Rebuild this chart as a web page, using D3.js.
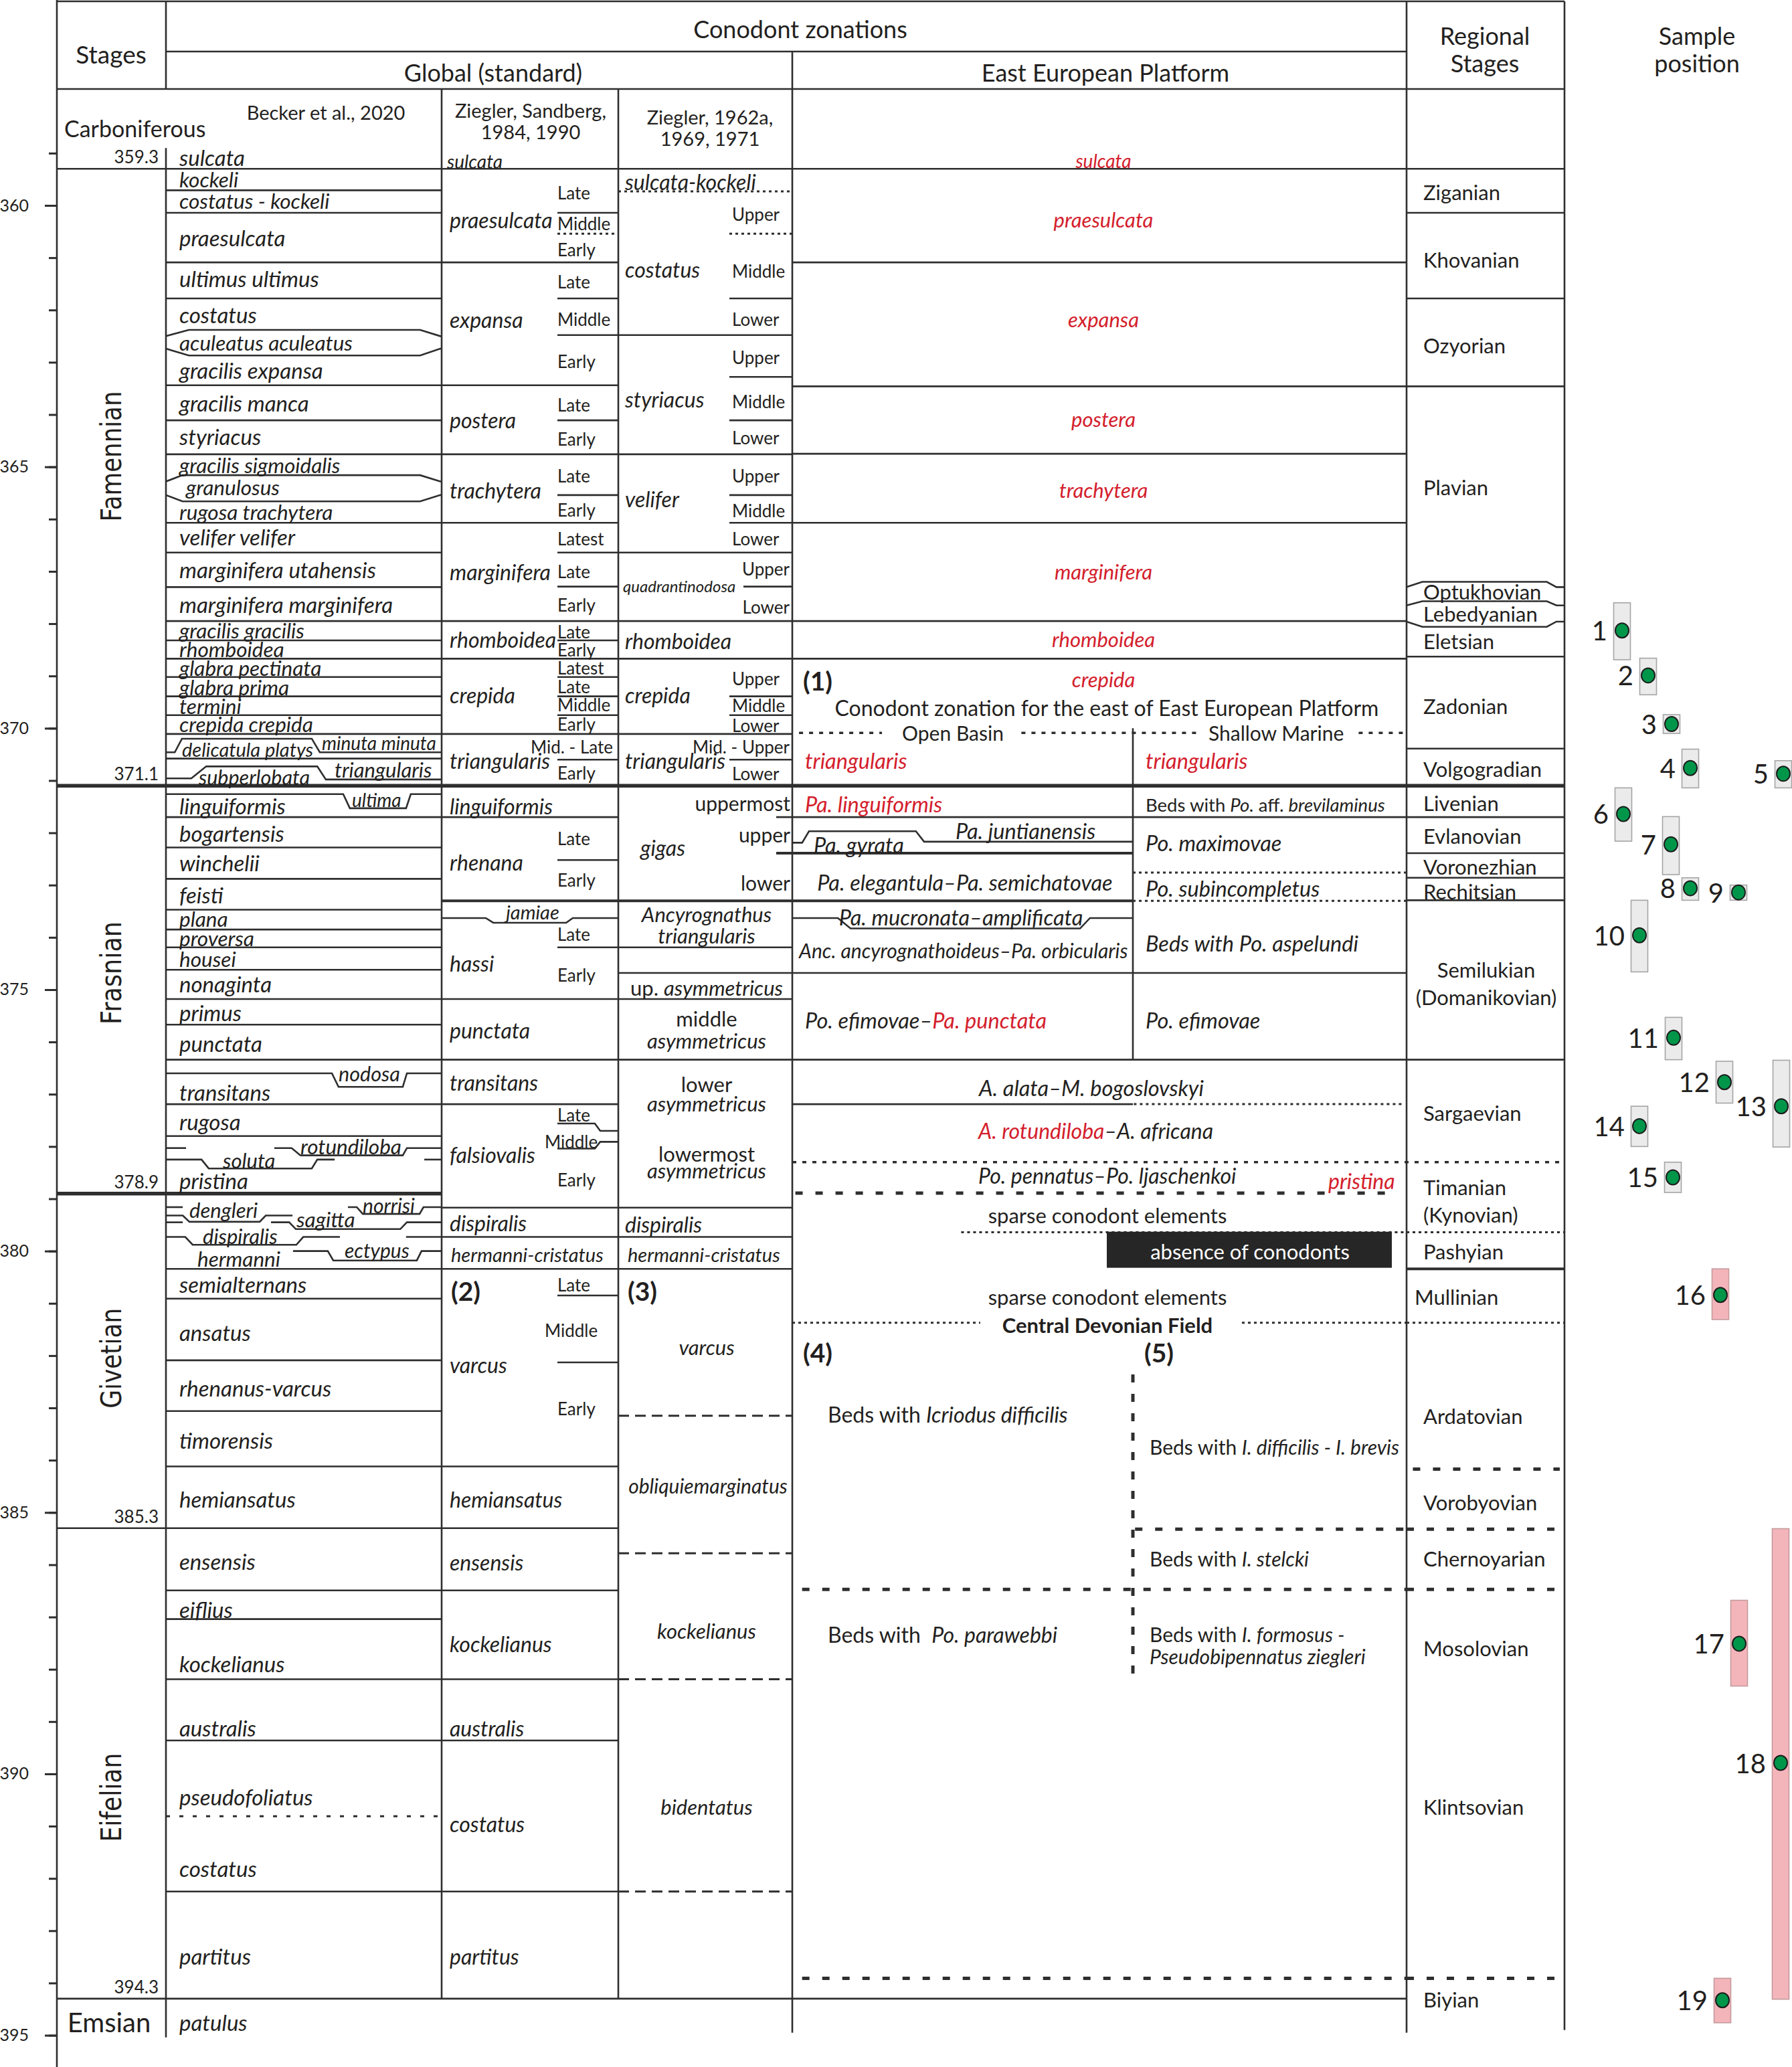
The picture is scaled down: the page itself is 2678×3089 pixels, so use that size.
<!DOCTYPE html>
<html>
<head>
<meta charset="utf-8">
<title>Devonian conodont zonations</title>
<script src="https://cdn.jsdelivr.net/npm/d3@7/dist/d3.min.js"></script>
<style>
  body { margin: 0; background: #fff; }
  text { font-family: Lato, "Open Sans", sans-serif; fill: #231f20; white-space: pre; }
</style>
</head>
<body>
<svg id="chart" width="2678" height="3089"></svg>
<script>
// ---------- data: every age in Ma ----------
var axisTicks = [359, 360, 361, 362, 363, 364, 365, 366, 367, 368, 369, 370, 371, 372, 373, 374, 375, 376, 377,
                 378, 379, 380, 381, 382, 383, 384, 385, 386, 387, 388, 389, 390, 391, 392, 393, 394, 395];
var axisLabels = [360, 365, 370, 375, 380, 385, 390, 395];

var stageBounds = [359.3, 371.1, 378.9, 385.3, 394.3];
var stageNames = [['Famennian', 364.8], ['Frasnian', 374.68], ['Givetian', 382.05], ['Eifelian', 390.45]];
var emsian = ['Emsian', 394.75];
var carboniferous = ['Carboniferous', 358.52];

// horizontal boundaries [age, columns, style]
var stageLines = [[359.3, 'stage:reg'], [371.1, 'stage:reg', 'thick'], [378.9, 'stage:becker', 'thick'],
                  [385.3, 'stage:zs'], [394.3, 'stage:eep']];
var beckerLines = [359.71, 360.14, 361.09, 361.78, 363.44, 364.11, 364.76, 366.07, 366.64, 367.30, 367.95, 368.32,
                   368.67, 369.02, 369.39, 369.75, 370.11, 370.58, 371.70, 372.28, 372.88, 373.47, 373.85, 374.19,
                   374.62, 375.18, 375.67, 376.34, 377.19, 377.80, 380.34, 380.91, 382.09, 383.06, 384.12, 386.49,
                   387.04, 388.19, 389.36, 392.25];
var beckerDotted = [390.81];
var zsLines = [361.09, 363.44, 364.76, 366.07, 367.95, 368.67, 370.11, 371.70, 375.18, 376.34, 377.19, 379.17,
               379.73, 380.34, 384.12, 386.49, 388.19, 389.36, 392.25];
var zsSubLines = [360.14, 361.78, 364.11, 365.54, 367.29, 368.32, 369.02, 369.39, 369.75, 370.60, 372.52, 380.85, 382.13];
var zsSubDotted = [360.54];
var z62Lines = [364.76, 367.95, 368.67, 370.11, 375.18, 376.34, 379.17, 379.73, 380.34];
var z62Dotted = [359.73];
var z62Dashed = [383.15, 385.78, 388.19, 392.25];
var z62SubLines = [361.78, 363.28, 364.11, 365.54, 366.07, 369.39, 369.75, 370.60];
var z62SubDotted = [360.54];
var eepLines = [361.09, 363.46, 364.75, 366.07, 367.95, 368.67];
var eepRDotted = [372.76, 373.30];
var regLines = [360.14, 361.78, 363.46, 368.63, 370.39, 372.39, 372.86, 373.29];
var crossLines = [[362.48, 'zsSub:z62'], [366.64, 'zsSub:z62'], [373.30, 'zs:eepL', 'med'], [374.19, 'zsSub:z62'],
                  [374.68, 'z62:eep'], [371.70, 'z62Tail:reg'], [372.39, 'z62Tail:eepL', 'med'], [376.34, 'eep:reg'],
                  [367.29, 'z62Q'], [378.30, 'eep:reg', 'dot2'], [377.19, 'eepL'], [380.34, 'reg', 'med']];
// partial lines [column, age, from, to, style]
var partLines = [
  ['eep', 370.09, 0.011, 0.146, 'dot2'], ['eep', 370.09, 0.373, 0.661, 'dot2'], ['eep', 370.09, 0.922, 1, 'dot2'],
  ['eep', 377.19, 0.556, 0.996, 'dot'], ['eep', 378.89, 0.005, 0.985, 'heavy'],
  ['eep', 379.64, 0.275, 1, 'dot'], ['reg', 379.64, 0, 1, 'dot'],
  ['eep', 381.37, 0, 0.306, 'dot'], ['eep', 381.37, 0.732, 1, 'dot'], ['reg', 381.37, 0, 1, 'dot'],
  ['reg', 384.17, 0.04, 0.97, 'heavy'],
  ['eep', 385.32, 0.558, 1, 'heavy'], ['reg', 385.32, 0, 0.97, 'heavy'],
  ['eep', 386.47, 0.016, 1, 'heavy'], ['reg', 386.47, 0, 0.97, 'heavy'],
  ['eep', 393.91, 0.016, 1, 'heavy'], ['reg', 393.91, 0, 0.985, 'heavy']
];
// offset zone boundaries [[fraction of column, age], ...]
var beckerShapes = [
  [[0, 362.50], [0.083, 362.38], [0.922, 362.38], [0.995, 362.50], [1, 362.50]],
  [[0, 362.74], [0.083, 362.87], [0.922, 362.87], [0.995, 362.74], [1, 362.74]],
  [[0, 365.28], [0.06, 365.16], [0.922, 365.16], [0.995, 365.28], [1, 365.28]],
  [[0, 365.54], [0.06, 365.66], [0.922, 365.66], [0.995, 365.54], [1, 365.54]],
  [[0, 370.46], [0.032, 370.46], [0.058, 370.20], [0.529, 370.20], [0.558, 370.46], [1, 370.46]],
  [[0, 370.96], [0.092, 370.96], [0.146, 370.73], [0.549, 370.73], [0.58, 370.98], [1, 370.98]],
  [[0, 371.26], [0.643, 371.26], [0.667, 371.53], [0.871, 371.53], [0.888, 371.26], [1, 371.26]],
  [[0, 376.60], [0.602, 376.60], [0.626, 376.86], [0.859, 376.86], [0.874, 376.60], [1, 376.60]],
  [[0, 378.03], [0.073, 378.03]],
  [[0.393, 378.03], [0.456, 378.03], [0.488, 378.17], [0.859, 378.17], [0.874, 378.03], [1, 378.03]],
  [[0, 378.25], [0.129, 378.25], [0.155, 378.42], [0.529, 378.42], [0.549, 378.25], [0.612, 378.25]],
  [[0.937, 378.25], [1, 378.25]],
  [[0, 379.16], [0.061, 379.16]],
  [[0.66, 379.16], [0.692, 379.16], [0.714, 379.29], [0.92, 379.29], [0.934, 379.16], [1, 379.16]],
  [[0, 379.32], [0.061, 379.32], [0.085, 379.44], [0.34, 379.44], [0.362, 379.32], [0.459, 379.32]],
  [[0, 379.45], [0.061, 379.45]],
  [[0.381, 379.45], [0.447, 379.45], [0.471, 379.58], [0.85, 379.58], [0.874, 379.45], [1, 379.45]],
  [[0, 379.73], [0.07, 379.73], [0.097, 379.88], [0.473, 379.88], [0.498, 379.73], [0.631, 379.73]],
  [[0.871, 379.73], [1, 379.73]],
  [[0.461, 380.00], [0.587, 380.00], [0.607, 380.18], [0.91, 380.18], [0.927, 380.00], [1, 380.00]]
];
var zsShapes = [[[0, 373.63], [0.25, 373.63], [0.292, 373.72], [0.705, 373.72], [0.742, 373.63], [1, 373.63]]];
var zsSubShapes = [
  [[0, 377.56], [0.615, 377.56], [0.703, 377.70], [1, 377.70]],
  [[0, 378.04], [0.615, 378.04], [0.703, 377.91], [1, 377.91]]
];
var eepShapes = [
  [[0, 372.19], [0.029, 372.19], [0.049, 371.97], [0.363, 371.97], [0.387, 372.17], [1, 372.17]],
  [[0, 373.63], [0.134, 373.63], [0.171, 373.83], [0.845, 373.83], [0.874, 373.63], [1, 373.63]]
];
var regShapes = [
  [[0, 367.30], [0.1, 367.20], [0.888, 367.20], [0.949, 367.30], [1, 367.30]],
  [[0, 367.65], [0.1, 367.57], [0.888, 367.57], [0.949, 367.65], [1, 367.65]],
  [[0, 367.96], [0.1, 368.06], [0.888, 368.06], [0.949, 367.96], [1, 367.96]]
];
var eepDivider = [[370.0, 376.34, 'solid'], [382.36, 388.12, 'vdash']];
var absenceBox = [379.63, 380.32];

// zone labels [markup, age, lane]  (*italic*  {red italic}  [bold])
var beckerNames = [
  ['*sulcata*', 359.08], ['*kockeli*', 359.50, 'beckerT'], ['*costatus - kockeli*', 359.91, 'beckerT'],
  ['*praesulcata*', 360.61], ['*ultimus ultimus*', 361.40], ['*costatus*', 362.08],
  ['*aculeatus aculeatus*', 362.63, 'beckerT'], ['*gracilis expansa*', 363.15], ['*gracilis manca*', 363.77],
  ['*styriacus*', 364.41], ['*gracilis sigmoidalis*', 364.96, 'beckerT'], ['*granulosus*', 365.39, 'bGran'],
  ['*rugosa trachytera*', 365.86, 'beckerT'], ['*velifer velifer*', 366.34], ['*marginifera utahensis*', 366.96],
  ['*marginifera marginifera*', 367.63], ['*gracilis gracilis*', 368.13, 'beckerT'], ['*rhomboidea*', 368.49, 'beckerT'],
  ['*glabra pectinata*', 368.84, 'beckerT'], ['*glabra prima*', 369.21, 'beckerT'], ['*termini*', 369.57, 'beckerT'],
  ['*crepida crepida*', 369.92, 'beckerT'],
  ['*delicatula platys*', 370.39, 'bDeli'], ['*minuta minuta*', 370.28, 'bMinuta'],
  ['*triangularis*', 370.79, 'bTriang'], ['*subperlobata*', 370.93, 'bSubp'],
  ['*linguiformis*', 371.48], ['*ultima*', 371.37, 'bUltima'], ['*bogartensis*', 372.00], ['*winchelii*', 372.57],
  ['*feisti*', 373.18], ['*plana*', 373.65, 'beckerT'], ['*proversa*', 374.02, 'beckerT'], ['*housei*', 374.41, 'beckerT'],
  ['*nonaginta*', 374.89], ['*primus*', 375.43], ['*punctata*', 376.03], ['*nodosa*', 376.60, 'bNodosa'],
  ['*transitans*', 376.96], ['*rugosa*', 377.52], ['*rotundiloba*', 377.99, 'bRotund'], ['*soluta*', 378.26, 'bSoluta'],
  ['*pristina*', 378.65],
  ['*dengleri*', 379.21, 'bDeng'], ['*sagitta*', 379.39, 'bSag'], ['*norrisi*', 379.12, 'bNorr'],
  ['*dispiralis*', 379.71, 'bDisp'], ['*hermanni*', 380.14, 'bHerm'], ['*ectypus*', 379.98, 'bEct'],
  ['*semialternans*', 380.63], ['*ansatus*', 381.55], ['*rhenanus-varcus*', 382.61], ['*timorensis*', 383.61],
  ['*hemiansatus*', 384.74], ['*ensensis*', 385.93], ['*eiflius*', 386.85], ['*kockelianus*', 387.89],
  ['*australis*', 389.12], ['*pseudofoliatus*', 390.43], ['*costatus*', 391.81], ['*partitus*', 393.48],
  ['*patulus*', 394.75]
];
var zsNames = [
  ['*sulcata*', 359.16, 'zsS'], ['*praesulcata*', 360.27], ['*expansa*', 362.18], ['*postera*', 364.09],
  ['*trachytera*', 365.44], ['*marginifera*', 367.00], ['*rhomboidea*', 368.30], ['*crepida*', 369.36],
  ['*triangularis*', 370.61], ['*linguiformis*', 371.48], ['*rhenana*', 372.56], ['*jamiae*', 373.50, 'zsJam'],
  ['*hassi*', 374.49], ['*punctata*', 375.77], ['*transitans*', 376.77], ['*falsiovalis*', 378.15],
  ['*dispiralis*', 379.45], ['*hermanni-cristatus*', 380.06, 'zs27'], ['[(2)]', 380.76, 'zsBold'],
  ['*varcus*', 382.17], ['*hemiansatus*', 384.74], ['*ensensis*', 385.94], ['*kockelianus*', 387.51],
  ['*australis*', 389.12], ['*costatus*', 390.95], ['*partitus*', 393.48]
];
var zsSubNames = [
  ['Late', 359.76], ['Middle', 360.35], ['Early', 360.84], ['Late', 361.46], ['Middle', 362.18], ['Early', 362.98],
  ['Late', 363.81], ['Early', 364.47], ['Late', 365.17], ['Early', 365.82],
  ['Latest', 366.37], ['Late', 367.00], ['Early', 367.64], ['Late', 368.15], ['Early', 368.50],
  ['Latest', 368.84], ['Late', 369.20], ['Middle', 369.55], ['Early', 369.92],
  ['Mid. - Late', 370.35, 'zsSubR'], ['Early', 370.85], ['Late', 372.11], ['Early', 372.90],
  ['Late', 373.94], ['Early', 374.72], ['Late', 377.40], ['Middle', 377.91, 'zsSubM'], ['Early', 378.64],
  ['Late', 380.65], ['Middle', 381.52, 'zsSubM'], ['Early', 383.01]
];
var z62Names = [
  ['*sulcata-kockeli*', 359.54], ['*costatus*', 361.21], ['*styriacus*', 363.70], ['*velifer*', 365.61],
  ['*quadrantinodosa*', 367.27, 'z62Q'], ['*rhomboidea*', 368.32], ['*crepida*', 369.36], ['*triangularis*', 370.61],
  ['*gigas*', 372.28, 'z62Gigas'], ['*Ancyrognathus*', 373.55, 'z62C'], ['*triangularis*', 373.97, 'z62C'],
  ['up. *asymmetricus*', 374.96, 'z62C'], ['middle', 375.55, 'z62C'], ['*asymmetricus*', 375.97, 'z62C'],
  ['lower', 376.81, 'z62C'], ['*asymmetricus*', 377.17, 'z62C'], ['lowermost', 378.13, 'z62C'],
  ['*asymmetricus*', 378.46, 'z62C'], ['*dispiralis*', 379.48], ['*hermanni-cristatus*', 380.06, 'z6227'],
  ['[(3)]', 380.76, 'z62Bold'], ['*varcus*', 381.83, 'z62C'], ['*obliquiemarginatus*', 384.48, 'z62C27'],
  ['*kockelianus*', 387.26, 'z62C'], ['*bidentatus*', 390.63, 'z62C']
];
var z62SubNames = [
  ['Upper', 360.17], ['Middle', 361.25], ['Lower', 362.18], ['Upper', 362.90], ['Middle', 363.75], ['Lower', 364.44],
  ['Upper', 365.17], ['Middle', 365.83], ['Lower', 366.37], ['Upper', 366.95, 'z62SubR'], ['Lower', 367.68, 'z62SubR'],
  ['Upper', 369.05], ['Middle', 369.56], ['Lower', 369.94], ['Mid. - Upper', 370.35, 'z62SubR'], ['Lower', 370.86],
  ['uppermost', 371.43, 'z62SubR30'], ['upper', 372.03, 'z62SubR30'], ['lower', 372.95, 'z62SubR30']
];
var eepNames = [
  ['{sulcata}', 359.14, 'eepCs'], ['{praesulcata}', 360.27], ['{expansa}', 362.18], ['{postera}', 364.08],
  ['{trachytera}', 365.44], ['{marginifera}', 367.00], ['{rhomboidea}', 368.30], ['{crepida}', 369.06],
  ['[(1)]', 369.09, 'eepBold'], ['Conodont zonation for the east of East European Platform', 369.60, 'eepTitle'],
  ['Open Basin', 370.09, 'eepOpen'], ['Shallow Marine', 370.09, 'eepShallow'],
  ['{triangularis}', 370.61, 'eepL'], ['{triangularis}', 370.61, 'eepR'],
  ['{Pa. linguiformis}', 371.44, 'eepL'], ['Beds with *Po.* aff. *brevilaminus*', 371.46, 'eepRs'],
  ['*Pa. juntianensis*', 371.95, 'eepJunt'], ['*Pa. gyrata*', 372.22, 'eepGyr'], ['*Po. maximovae*', 372.19, 'eepR'],
  ['*Pa. elegantula–Pa. semichatovae*', 372.94, 'eepLC'], ['*Po. subincompletus*', 373.06, 'eepR'],
  ['*Pa. mucronata–amplificata*', 373.60, 'eepLC2'], ['*Anc. ancyrognathoideus–Pa. orbicularis*', 374.25, 'eepL0'],
  ['*Beds with Po. aspelundi*', 374.10, 'eepR'], ['*Po. efimovae–*{Pa. punctata}', 375.58, 'eepL'],
  ['*Po. efimovae*', 375.58, 'eepR'], ['*A. alata–M. bogoslovskyi*', 376.87, 'eepC2'],
  ['{A. rotundiloba}*–A. africana*', 377.69, 'eepMid'], ['*Po. pennatus–Po. ljaschenkoi*', 378.54, 'eepMid'],
  ['{pristina}', 378.65, 'eepPristina'], ['sparse conodont elements', 379.32, 'eepSparse'],
  ['absence of conodonts', 380.01, 'eepAbs'], ['sparse conodont elements', 380.88, 'eepSparse'],
  ['[Central Devonian Field]', 381.41, 'eepSparse'], ['[(4)]', 381.94, 'eepBold'], ['[(5)]', 381.94, 'eepBoldR'],
  ['Beds with *Icriodus difficilis*', 383.11, 'eep4'], ['Beds with *I. difficilis - I. brevis*', 383.74, 'eep5'],
  ['Beds with *I. stelcki*', 385.88, 'eep5'], ['Beds with  *Po. parawebbi*', 387.33, 'eep4'],
  ['Beds with *I. formosus -*', 387.33, 'eep5'], ['*Pseudobipennatus ziegleri*', 387.75, 'eep5']
];
var regNames = [
  ['Ziganian', 359.74], ['Khovanian', 361.04], ['Ozyorian', 362.67], ['Plavian', 365.39], ['Optukhovian', 367.39],
  ['Lebedyanian', 367.81], ['Eletsian', 368.33], ['Zadonian', 369.57], ['Volgogradian', 370.78], ['Livenian', 371.43],
  ['Evlanovian', 372.06], ['Voronezhian', 372.65], ['Rechitsian', 373.12], ['Semilukian', 374.62, 'regC'],
  ['(Domanikovian)', 375.14, 'regC'], ['Sargaevian', 377.36], ['Timanian', 378.77], ['(Kynovian)', 379.30],
  ['Pashyian', 380.00], ['Mullinian', 380.88, 'regL2'], ['Ardatovian', 383.15], ['Vorobyovian', 384.80],
  ['Chernoyarian', 385.88], ['Mosolovian', 387.60], ['Klintsovian', 390.63], ['Biyian', 394.32]
];
// samples [number, top, base, position, kind]
var samples = [
  [1, 367.60, 368.69, 368.13, 'grey'], [2, 368.66, 369.36, 368.99, 'grey'], [3, 369.74, 370.10, 369.92, 'grey'],
  [4, 370.40, 371.14, 370.76, 'grey'], [5, 370.62, 371.14, 370.87, 'grey'], [6, 371.14, 372.16, 371.64, 'grey'],
  [7, 371.69, 372.80, 372.22, 'grey'], [8, 372.86, 373.29, 373.06, 'grey'], [9, 373.00, 373.29, 373.14, 'grey'],
  [10, 373.29, 374.66, 373.96, 'grey'], [11, 375.53, 376.34, 375.92, 'grey'], [12, 376.37, 377.17, 376.77, 'grey'],
  [13, 376.35, 378.01, 377.23, 'grey'], [14, 377.23, 378.00, 377.61, 'grey'], [15, 378.30, 378.88, 378.59, 'grey'],
  [16, 380.34, 381.31, 380.84, 'pink'], [17, 386.68, 388.32, 387.51, 'pink'], [18, 385.31, 394.31, 389.79, 'pink'],
  [19, 393.91, 394.76, 394.33, 'pink']
];

// ---------- layout ----------
var RED = '#d4202c', INK = '#2e2e2e';
var svg = d3.select('#chart');
var y = d3.scaleLinear().domain([360, 395]).range([307, 3041.6]);

var cols = {
  stage: [85, 248], becker: [248, 660], zs: [660, 924], zsSub: [833, 924],
  z62: [924, 1184], z62Sub: [1090, 1184], z62Q: [1111, 1184], z62Tail: [1160, 1184],
  eep: [1184, 2102], eepL: [1184, 1693], eepR: [1693, 2102], reg: [2102, 2338]
};
var xs = {};
Object.keys(cols).forEach(function (k) { xs[k] = d3.scaleLinear().domain([0, 1]).range(cols[k]); });
function spanOf(key) { var p = key.split(':'); return [cols[p[0]][0], cols[p[p.length - 1]][1]]; }

var strokes = {
  solid: [2.6, null], med: [4, null], thick: [5.5, null], dot: [3, '4,5'], dot2: [3.5, '6,9'],
  sparse: [3, '6,14'], dash: [3, '16,9'], heavy: [5, '11,19'], vdash: [5, '12,17']
};
// lanes: x, anchor, font size, colour
var lanes = {
  beckerL: [268, 'start', 33], beckerT: [268, 'start', 31.5], bGran: [278, 'start', 31.5], bDeli: [272, 'start', 29],
  bMinuta: [481, 'start', 28], bTriang: [500, 'start', 31], bSubp: [297, 'start', 30.5], bUltima: [526, 'start', 28],
  bNodosa: [506, 'start', 30.5], bRotund: [449, 'start', 31.5], bSoluta: [333, 'start', 31], bDeng: [283, 'start', 31],
  bSag: [443, 'start', 31.5], bNorr: [542, 'start', 30], bDisp: [303, 'start', 31], bHerm: [295, 'start', 31.5],
  bEct: [515, 'start', 30],
  zsL: [672, 'start', 32], zsS: [668, 'start', 28], zs27: [674, 'start', 29], zsBold: [674, 'start', 39],
  zsJam: [796, 'middle', 29], zsSubL: [833, 'start', 26], zsSubR: [916, 'end', 26], zsSubM: [814, 'start', 26],
  z62L: [934, 'start', 32], z62Q: [931, 'start', 24], z6227: [938, 'start', 29], z62Bold: [938, 'start', 39],
  z62C: [1056, 'middle', 31], z62C27: [1058, 'middle', 30], z62Gigas: [957, 'start', 32],
  z62SubL: [1094, 'start', 26], z62SubR: [1180, 'end', 26], z62SubR30: [1181, 'end', 30],
  eepC: [1649, 'middle', 31, RED], eepCs: [1649, 'middle', 28, RED], eepTitle: [1654, 'middle', 32],
  eepOpen: [1424, 'middle', 30], eepShallow: [1806, 'start', 30], eepL: [1203, 'start', 32.5],
  eepR: [1712, 'start', 32.5], eepRs: [1712, 'start', 27.5], eepBold: [1200, 'start', 39], eepBoldR: [1710, 'start', 39],
  eepJunt: [1428, 'start', 32.5], eepGyr: [1216, 'start', 32.5], eepLC: [1442, 'middle', 32.5],
  eepLC2: [1436, 'middle', 32.5], eepL0: [1194, 'start', 30],
  eepC2: [1631, 'middle', 32.5], eepMid: [1462, 'start', 32], eepPristina: [1985, 'start', 32],
  eepSparse: [1655, 'middle', 31], eepAbs: [1868, 'middle', 31, '#ffffff'], eep4: [1237, 'start', 32],
  eep5: [1718, 'start', 30], regL: [2127, 'start', 31], regC: [2221, 'middle', 31], regL2: [2114, 'start', 31]
};
var stageLen = [195, 154, 150, 133];
var sampleLane = {1: 2424, 2: 2463, 3: 2498, 4: 2526, 5: 2665, 6: 2426, 7: 2497, 8: 2526, 9: 2598, 10: 2450,
                  11: 2501, 12: 2577, 13: 2662, 14: 2450, 15: 2500, 16: 2571, 17: 2599, 18: 2661, 19: 2574};
var headTop = 2, headMid = 77, headBot = 133;

// ---------- frame ----------
var gGrid = svg.append('g').attr('fill', 'none').attr('stroke', INK).attr('stroke-linecap', 'butt');

var heads = [[headTop, 85, 2338], [headMid, 248, 2102], [headBot, 85, 2338]];
gGrid.selectAll('line.head').data(heads).join('line').attr('class', 'head')
  .attr('x1', function (d) { return d[1]; }).attr('x2', function (d) { return d[2]; })
  .attr('y1', function (d) { return d[0]; }).attr('y2', function (d) { return d[0]; })
  .attr('stroke-width', 2.6);

var verticals = [
  [85, 0, 3089], [cols.stage[1], headTop, headBot], [cols.stage[1], y(359.3) - 31, y(395.04)],
  [cols.zs[0], headBot, y(394.3)], [cols.z62[0], headBot, y(394.3)], [cols.eep[0], headMid, y(394.95)],
  [cols.reg[0], headTop, y(394.95)], [cols.reg[1], headTop, y(394.9)]
];
gGrid.selectAll('line.v').data(verticals).join('line').attr('class', 'v')
  .attr('x1', function (d) { return d[0]; }).attr('x2', function (d) { return d[0]; })
  .attr('y1', function (d) { return d[1]; }).attr('y2', function (d) { return d[2]; })
  .attr('stroke-width', 2.6);

gGrid.selectAll('line.div').data(eepDivider).join('line').attr('class', 'div')
  .attr('x1', cols.eepL[1]).attr('x2', cols.eepL[1])
  .attr('y1', function (d) { return y(d[0]); }).attr('y2', function (d) { return y(d[1]); })
  .attr('stroke-width', function (d) { return d[2] === 'vdash' ? strokes.vdash[0] : 2.6; })
  .attr('stroke-dasharray', function (d) { return strokes[d[2]][1]; });

// ---------- zone boundaries ----------
function tag(list, span, style) { return list.map(function (a) { return [a, span, style || 'solid']; }); }
var hLines = [].concat(
  stageLines.map(function (d) { return [d[0], d[1], d[2] || 'solid']; }),
  tag(beckerLines, 'becker'), tag(beckerDotted, 'becker', 'sparse'),
  tag(zsLines, 'zs'), tag(zsSubLines, 'zsSub'), tag(zsSubDotted, 'zsSub', 'dot'),
  tag(z62Lines, 'z62'), tag(z62Dotted, 'z62', 'dot'), tag(z62Dashed, 'z62', 'dash'),
  tag(z62SubLines, 'z62Sub'), tag(z62SubDotted, 'z62Sub', 'dot'),
  tag(eepLines, 'eep'), tag(eepRDotted, 'eepR', 'dot'), tag(regLines, 'reg'),
  crossLines.map(function (d) { return [d[0], d[1], d[2] || 'solid']; })
);
gGrid.selectAll('line.h').data(hLines).join('line').attr('class', 'h')
  .attr('x1', function (d) { return spanOf(d[1])[0]; }).attr('x2', function (d) { return spanOf(d[1])[1]; })
  .attr('y1', function (d) { return y(d[0]); }).attr('y2', function (d) { return y(d[0]); })
  .attr('stroke-width', function (d) { return strokes[d[2]][0]; })
  .attr('stroke-dasharray', function (d) { return strokes[d[2]][1]; });

gGrid.selectAll('line.p').data(partLines).join('line').attr('class', 'p')
  .attr('x1', function (d) { return xs[d[0]](d[2]); }).attr('x2', function (d) { return xs[d[0]](d[3]); })
  .attr('y1', function (d) { return y(d[1]); }).attr('y2', function (d) { return y(d[1]); })
  .attr('stroke-width', function (d) { return strokes[d[4]][0]; })
  .attr('stroke-dasharray', function (d) { return strokes[d[4]][1]; });

var shapes = [].concat(
  beckerShapes.map(function (p) { return {col: 'becker', pts: p}; }),
  zsShapes.map(function (p) { return {col: 'zs', pts: p}; }),
  zsSubShapes.map(function (p) { return {col: 'zsSub', pts: p}; }),
  eepShapes.map(function (p) { return {col: 'eepL', pts: p}; }),
  regShapes.map(function (p) { return {col: 'reg', pts: p}; })
);
var path = d3.line();
gGrid.selectAll('path.s').data(shapes).join('path').attr('class', 's')
  .attr('d', function (d) { return path(d.pts.map(function (p) { return [xs[d.col](p[0]), y(p[1])]; })); })
  .attr('stroke-width', 2.6);

svg.append('rect')
  .attr('x', xs.eep(0.512)).attr('width', xs.eep(0.976) - xs.eep(0.512))
  .attr('y', y(absenceBox[0])).attr('height', y(absenceBox[1]) - y(absenceBox[0]))
  .attr('fill', '#262626');

// ---------- axis ----------
var gAxis = svg.append('g').attr('transform', 'translate(85,0)');
gAxis.append('g').call(d3.axisLeft(y).tickValues(axisTicks).tickSize(12).tickFormat(''));
gAxis.append('g').call(d3.axisLeft(y).tickValues(axisLabels).tickSize(18).tickPadding(24));
gAxis.selectAll('.domain').remove();
gAxis.selectAll('.tick line').attr('stroke', INK).attr('stroke-width', 3);
gAxis.selectAll('.tick text').attr('font-size', 25).attr('font-family', 'Lato, sans-serif').attr('fill', '#231f20');

// ---------- text ----------
var gText = svg.append('g');
function fillMarkup(sel, markup) {
  markup.split(/(\*[^*]+\*|\{[^}]+\}|\[[^\]]+\])/).filter(function (s) { return s.length; }).forEach(function (s) {
    var ts = sel.append('tspan');
    if (s[0] === '*') ts.text(s.slice(1, -1)).attr('font-style', 'italic');
    else if (s[0] === '{') ts.text(s.slice(1, -1)).attr('font-style', 'italic').style('fill', RED);
    else if (s[0] === '[') ts.text(s.slice(1, -1)).attr('font-weight', 'bold');
    else ts.text(s);
  });
}
function drawLabels(list, defLane) {
  gText.append('g').selectAll('text').data(list).join('text')
    .each(function (d) {
      var ln = lanes[d[2] || defLane], t = d3.select(this);
      t.attr('x', ln[0]).attr('y', y(d[1])).attr('text-anchor', ln[1]).attr('font-size', ln[2])
        .attr('dominant-baseline', 'central');
      if (ln[3]) t.style('fill', ln[3]);
      fillMarkup(t, d[0]);
    });
}
drawLabels(beckerNames, 'beckerL');
drawLabels(zsNames, 'zsL');
drawLabels(zsSubNames, 'zsSubL');
drawLabels(z62Names, 'z62L');
drawLabels(z62SubNames, 'z62SubL');
drawLabels(eepNames, 'eepC');
drawLabels(regNames, 'regL');

// stages
gText.selectAll('text.stage').data(stageNames).join('text').attr('class', 'stage')
  .attr('transform', function (d) { return 'translate(' + (cols.stage[0] + cols.stage[1]) / 2 + ',' + y(d[1]) + ') rotate(-90)'; })
  .attr('text-anchor', 'middle').attr('dominant-baseline', 'central')
  .style('font-family', '"DejaVu Sans", sans-serif').attr('font-size', 42)
  .attr('textLength', function (d, i) { return stageLen[i]; }).attr('lengthAdjust', 'spacingAndGlyphs')
  .text(function (d) { return d[0]; });
gText.append('text').attr('x', 163).attr('y', y(emsian[1])).attr('text-anchor', 'middle')
  .attr('dominant-baseline', 'central').attr('font-size', 40).text(emsian[0]);
gText.append('text').attr('x', 96).attr('y', y(carboniferous[1])).attr('dominant-baseline', 'central')
  .attr('font-size', 34).text(carboniferous[0]);
gText.selectAll('text.bound').data(stageBounds).join('text').attr('class', 'bound')
  .attr('x', 237).attr('y', function (d) { return y(d) - 18; }).attr('text-anchor', 'end')
  .attr('dominant-baseline', 'central').attr('font-size', 26).text(function (d) { return d.toFixed(1); });

// headers
var headers = [
  ['Stages', 166, 80, 37], ['Conodont zonations', 1196, 43, 36], ['Global (standard)', 737, 108, 36],
  ['East European Platform', 1652, 108, 36], ['Regional', 2219, 53, 36], ['Stages', 2219, 94, 36],
  ['Sample', 2536, 53, 36], ['position', 2536, 94, 36],
  ['Becker et al., 2020', 487, 167, 29], ['Ziegler, Sandberg,', 793, 164, 29], ['1984, 1990', 793, 196, 29],
  ['Ziegler, 1962a,', 1061, 174, 29], ['1969, 1971', 1061, 206, 29]
];
gText.selectAll('text.head').data(headers).join('text').attr('class', 'head')
  .attr('x', function (d) { return d[1]; }).attr('y', function (d) { return d[2]; })
  .attr('text-anchor', 'middle').attr('dominant-baseline', 'central')
  .attr('font-size', function (d) { return d[3]; }).text(function (d) { return d[0]; });

// ---------- samples ----------
var gS = svg.append('g');
var sg = gS.selectAll('g').data(samples).join('g');
sg.append('rect')
  .attr('x', function (d) { return sampleLane[d[0]] - 12.5; }).attr('width', 25)
  .attr('y', function (d) { return y(d[1]); }).attr('height', function (d) { return y(d[2]) - y(d[1]); })
  .attr('fill', function (d) { return d[4] === 'pink' ? '#f4b5ba' : '#ebebeb'; })
  .attr('stroke', function (d) { return d[4] === 'pink' ? '#c49a9d' : '#a5a5a5'; }).attr('stroke-width', 1.6);
sg.append('ellipse')
  .attr('cx', function (d) { return sampleLane[d[0]]; }).attr('cy', function (d) { return y(d[3]); })
  .attr('rx', 10).attr('ry', 11).attr('fill', '#00964a').attr('stroke', '#1d1d1d').attr('stroke-width', 2);
sg.append('text')
  .attr('x', function (d) { return sampleLane[d[0]] - 22; }).attr('y', function (d) { return y(d[3]); })
  .attr('text-anchor', 'end').attr('dominant-baseline', 'central').attr('font-size', 40)
  .text(function (d) { return d[0]; });
</script>
</body>
</html>
